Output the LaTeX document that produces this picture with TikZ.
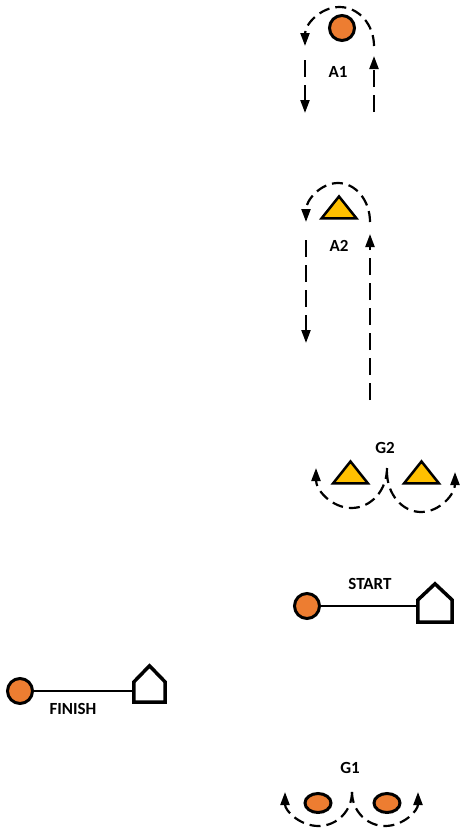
\documentclass[tikz,border=0pt]{standalone}
\usepackage{fontspec}
\setmainfont{Carlito}
\usepackage{tikz}
\usetikzlibrary{arrows.meta, shapes.geometric, positioning}
\definecolor{conecolor}{HTML}{ED7D31}
\definecolor{markcolor}{HTML}{FFC000}

\begin{document}
\begin{tikzpicture}[x=1pt, y=1pt, >={Triangle[length=13pt, width=9pt]},
	cone/.style={circle, draw, line width=3pt, fill=conecolor, minimum size=25pt, inner sep=0pt},
	flat/.style={ellipse, draw, line width=3pt, fill=conecolor, minimum width=26pt, minimum height=19pt, inner sep=0pt},
	tri/.style={isosceles triangle, isosceles triangle stretches, shape border rotate=90, draw, line width=2.5pt, line join=miter, fill=markcolor, minimum width=35pt, minimum height=22pt, inner sep=0pt},
	hut/.style={minimum width=34pt, minimum height=38pt, inner sep=0pt},
	walls/.style={line width=3.5pt, line join=miter},
	run/.style={line width=2.2pt, dash pattern=on 17pt off 8pt},
	turn/.style={line width=2.2pt, dash pattern=on 11pt off 6pt},
	tag/.style={font=\bfseries\fontsize{17}{20}\selectfont, inner sep=0pt}]

		\useasboundingbox (0,0) rectangle (460,-828);

		% A1
		\node[cone] (a1) at (342,-28) {};
		\node[tag] (a1l) at (338,-72) {A1};
		\coordinate (a1p) at (374,-112);
		\coordinate (a1q) at (374,-56);
		\coordinate (a1s) at (374,-46);
		\coordinate (a1t) at (305,-60);
		\coordinate (a1u) at (305,-113);
		\draw[run, ->] (a1p) -- (a1q);
		\draw[turn, ->] (a1s) arc[start angle=0, end angle=180, x radius=34.5, y radius=39];
		\draw[run, ->] (a1t) -- (a1u);

		% A2
		\node[tri] (a2) at (339,-210) {};
		\node[tag] (a2l) at (339,-246) {A2};
		\coordinate (a2p) at (370,-400);
		\coordinate (a2q) at (370,-234);
		\coordinate (a2s) at (370,-222);
		\coordinate (a2t) at (306,-240);
		\coordinate (a2u) at (306,-343);
		\draw[run, ->] (a2p) -- (a2q);
		\draw[turn, ->] (a2s) arc[start angle=0, end angle=180, x radius=32, y radius=39];
		\draw[run, ->] (a2t) -- (a2u);

		% G2
		\node[tri] (g2a) at (350.5,-475) {};
		\node[tri] (g2b) at (421.5,-475) {};
		\node[tag] (g2l) at (385,-448) {G2};
		\coordinate (g2s) at (387,-468);
		\coordinate (g2t) at (387,-472);
		\draw[turn, ->] (g2s) arc[start angle=0, end angle=-180, x radius=35.5, y radius=40];
		\draw[turn, ->] (g2t) arc[start angle=180, end angle=360, x radius=34, y radius=40];

		% Start
		\node[cone] (s1) at (307,-606) {};
		\node[hut] (s2) at (435,-603) {};
		\node[tag] (s3) at (370,-584) {START};
		\draw[walls] (s2.south west) -- ([yshift=3pt]s2.west) -- (s2.north) -- ([yshift=3pt]s2.east) -- (s2.south east) -- cycle;
		\draw[line width=1.6pt] (s1) -- (s1 -| s2.west);

		% Finish
		\node[cone] (f1) at (20,-691) {};
		\node[hut, minimum width=31pt, minimum height=36pt] (f2) at (149.5,-684) {};
		\node[tag] (f3) at (73,-709) {FINISH};
		\draw[walls] (f2.south west) -- ([yshift=2pt]f2.west) -- (f2.north) -- ([yshift=2pt]f2.east) -- (f2.south east) -- cycle;
		\draw[line width=1.3pt] (f1) -- (f1 -| f2.west);

		% G1
		\node[flat] (g1a) at (318,-803) {};
		\node[flat] (g1b) at (387,-803) {};
		\node[tag] (g1l) at (350,-768) {G1};
		\coordinate (g1s) at (352,-792);
		\draw[turn, ->] (g1s) arc[start angle=0, end angle=-180, x radius=33.5, y radius=34];
		\draw[turn, ->] (g1s) arc[start angle=180, end angle=360, x radius=33, y radius=34];
	\end{tikzpicture}
\end{document}
